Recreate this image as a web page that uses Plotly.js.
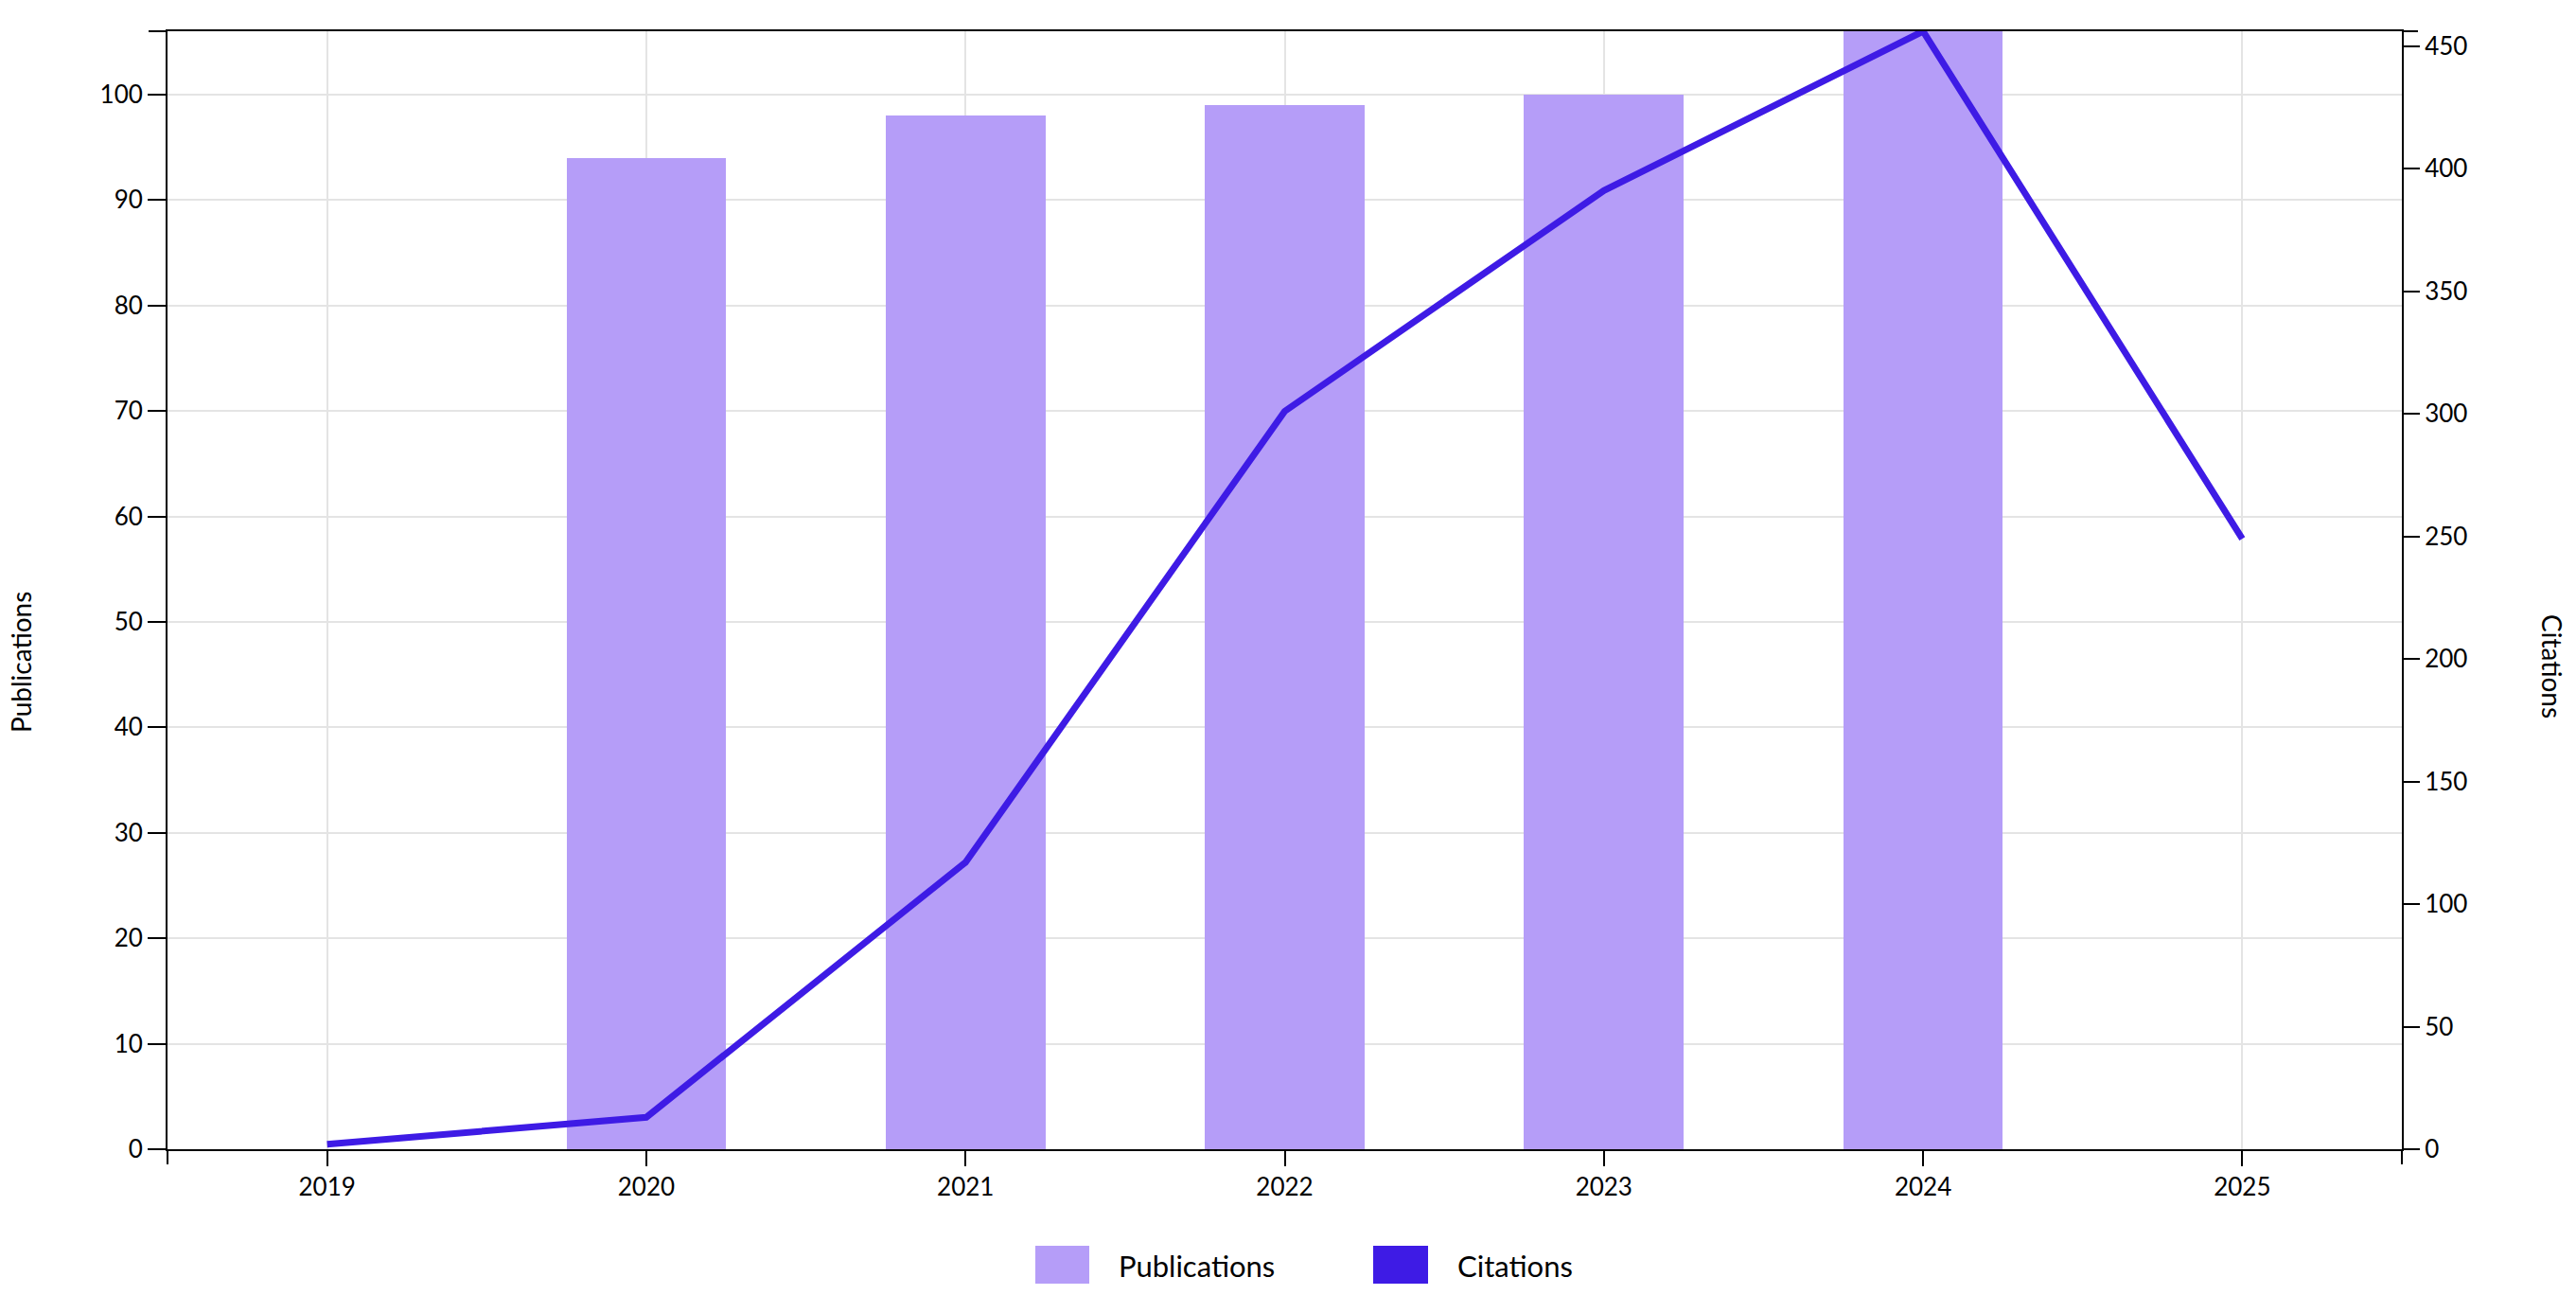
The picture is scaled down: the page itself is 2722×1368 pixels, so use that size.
<!DOCTYPE html>
<html>
<head>
<meta charset="utf-8">
<script src="https://cdn.plot.ly/plotly-3.0.1.min.js"></script>
<style>
  html, body { margin: 0; padding: 0; background: #ffffff; }
  #chart { width: 2722px; height: 1368px; }
</style>
</head>
<body>
<div id="chart"></div>
<script>
// ---- data ----
const years = [2019, 2020, 2021, 2022, 2023, 2024, 2025];
const yearLabels = ["2019", "2020", "2021", "2022", "2023", "2024", "2025"];
const publications = [0, 94, 98, 99, 100, 106, 0];
const citations = [2, 13, 117, 301, 391, 456, 249];
const pubTicks = [0, 10, 20, 30, 40, 50, 60, 70, 80, 90, 100];
const citTicks = [0, 50, 100, 150, 200, 250, 300, 350, 400, 450];
const seriesNames = ["Publications", "Citations"];
const axisTitles = ["Publications", "Citations"];

// ---- style ----
const W = 2722, H = 1368;
const L = 177, R = 2538, T = 33, B = 1214;
const barColor = "#B59DF8";
const lineColor = "#3E1BE5";
const gridColor = "#E4E4E4";
const FONT = "Lato, 'Source Sans Pro', 'Noto Sans', sans-serif";

const px = x => (x - L) / (R - L);
const py = y => (B - y) / (B - T);

const traces = [
  {
    type: "bar",
    x: years,
    y: publications,
    name: seriesNames[0],
    width: 0.5,
    marker: { color: barColor },
    yaxis: "y",
    showlegend: false,
    hoverinfo: "x+y"
  },
  {
    type: "scatter",
    mode: "lines",
    x: years,
    y: citations,
    name: seriesNames[1],
    line: { color: lineColor, width: 7 },
    yaxis: "y2",
    showlegend: false,
    cliponaxis: false
  }
];

const axisCommon = {
  showline: true,
  linecolor: "#000000",
  linewidth: 2,
  ticks: "outside",
  tickcolor: "#000000",
  tickwidth: 2,
  zeroline: false,
  tickfont: { family: FONT, size: 26, color: "#000000" }
};

const shapes = [
  // outer ticks at axis ends
  { type: "line", xref: "paper", yref: "paper", x0: px(157), x1: px(177), y0: 1, y1: 1, line: { color: "#000", width: 2 } },
  { type: "line", xref: "paper", yref: "paper", x0: px(2538), x1: px(2555), y0: 1, y1: 1, line: { color: "#000", width: 2 } },
  { type: "line", xref: "paper", yref: "paper", x0: 0, x1: 0, y0: 0, y1: py(1230), line: { color: "#000", width: 2 } },
  { type: "line", xref: "paper", yref: "paper", x0: 1, x1: 1, y0: 0, y1: py(1230), line: { color: "#000", width: 2 } },
  // legend swatches
  { type: "rect", xref: "paper", yref: "paper", x0: px(1094), x1: px(1151), y0: py(1316), y1: py(1356), fillcolor: barColor, line: { width: 0 } },
  { type: "rect", xref: "paper", yref: "paper", x0: px(1451), x1: px(1509), y0: py(1316), y1: py(1356), fillcolor: lineColor, line: { width: 0 } }
];

const annotations = [
  { xref: "paper", yref: "paper", x: px(1180), y: py(1337), xanchor: "left", yanchor: "middle", showarrow: false,
    text: seriesNames[0], font: { family: FONT, size: 31, color: "#000" } },
  { xref: "paper", yref: "paper", x: px(1538), y: py(1337), xanchor: "left", yanchor: "middle", showarrow: false,
    text: seriesNames[1], font: { family: FONT, size: 31, color: "#000" } },
  { xref: "paper", yref: "paper", x: px(22), y: py(700), xanchor: "center", yanchor: "middle", showarrow: false,
    textangle: -90, text: axisTitles[0], font: { family: FONT, size: 28, color: "#000" } },
  { xref: "paper", yref: "paper", x: px(2697), y: py(704), xanchor: "center", yanchor: "middle", showarrow: false,
    textangle: 90, text: axisTitles[1], font: { family: FONT, size: 28, color: "#000" } }
];

const layout = {
  width: W,
  height: H,
  margin: { l: L, r: W - R, t: T, b: H - B, pad: 0 },
  paper_bgcolor: "#ffffff",
  plot_bgcolor: "#ffffff",
  font: { family: FONT, color: "#000000" },
  showlegend: false,
  bargap: 0,
  xaxis: Object.assign({}, axisCommon, {
    type: "linear",
    range: [years[0] - 0.5, years[years.length - 1] + 0.5],
    tickvals: years,
    ticktext: yearLabels,
    ticklen: 16,
    showgrid: true,
    gridcolor: gridColor,
    gridwidth: 2,
    mirror: true
  }),
  yaxis: Object.assign({}, axisCommon, {
    range: [0, Math.max(...publications)],
    tickvals: pubTicks,
    ticklen: 19,
    showgrid: true,
    gridcolor: gridColor,
    gridwidth: 2
  }),
  yaxis2: Object.assign({}, axisCommon, {
    overlaying: "y",
    side: "right",
    range: [0, Math.max(...citations)],
    tickvals: citTicks,
    ticklen: 17,
    showgrid: false
  }),
  shapes: shapes,
  annotations: annotations
};

Plotly.newPlot("chart", traces, layout, { displayModeBar: false, staticPlot: true });
</script>
</body>
</html>
